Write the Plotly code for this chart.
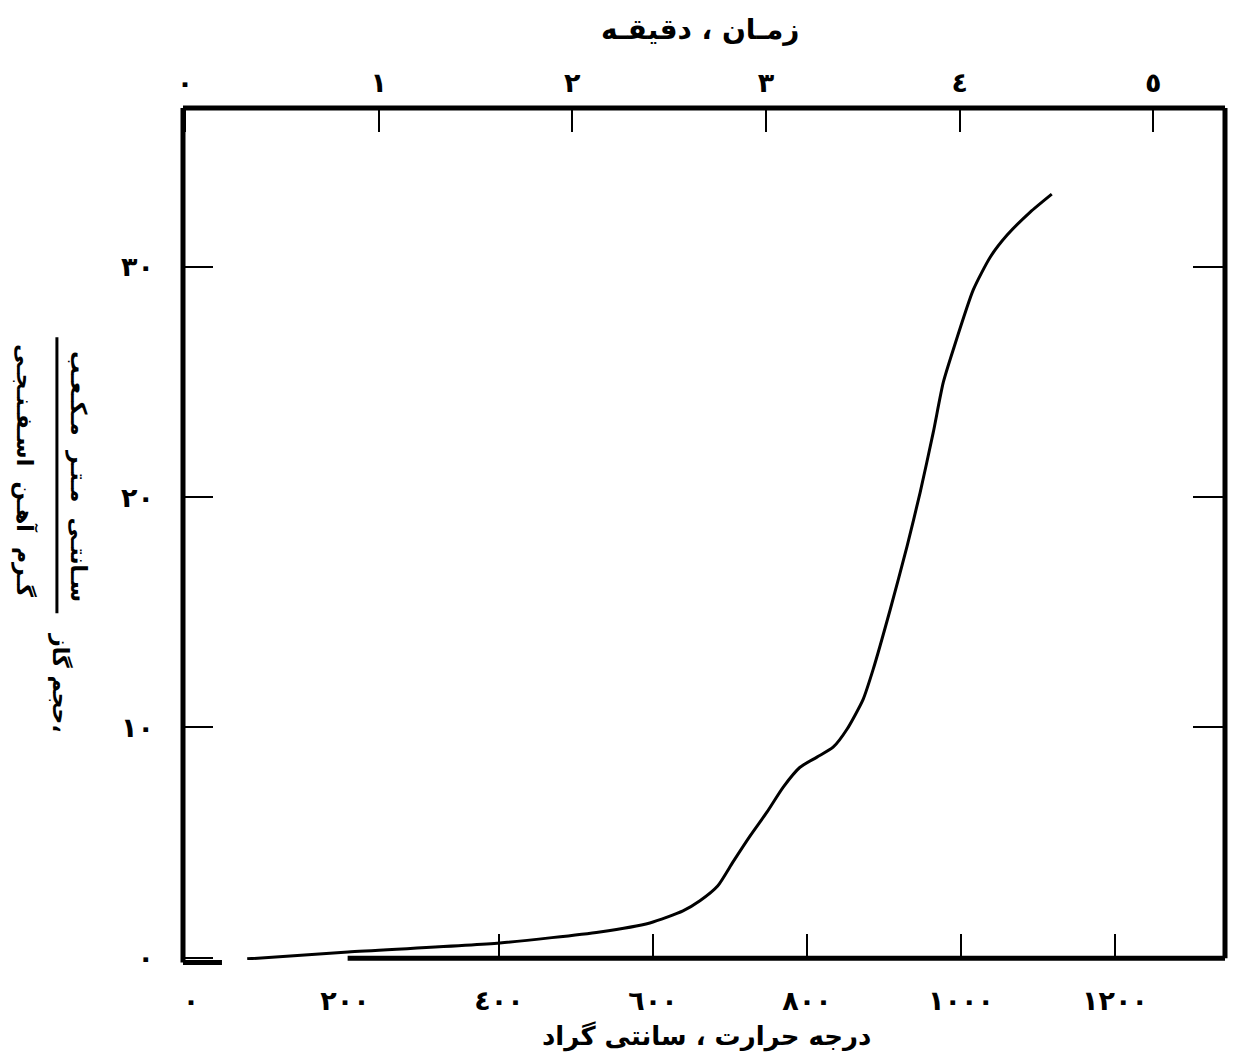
import plotly.graph_objects as go

# ---- data ----
temp_c = [73, 204, 401, 531, 596, 639, 661, 684, 704, 726, 748, 769, 791, 813,
          834, 852, 873, 886, 908, 930, 947, 964, 977, 990, 1016, 1038, 1060,
          1090, 1118]
gas_vol = [-0.05, 0.25, 0.64, 1.12, 1.51, 2.03, 2.47, 3.11, 4.16, 5.28, 6.32,
           7.40, 8.27, 8.71, 9.14, 9.92, 11.22, 12.52, 15.1, 17.86, 20.2, 22.8,
           24.97, 26.4, 29.0, 30.42, 31.38, 32.38, 33.16]

temp_ticks = [0, 200, 400, 600, 800, 1000, 1200]
temp_labels = ["٠", "٢٠٠", "٤٠٠", "٦٠٠", "٨٠٠", "١٠٠٠", "١٢٠٠"]
temp_marks = [400, 600, 800, 1000, 1200]

time_ticks = [0, 1, 2, 3, 4, 5]
time_labels = ["٠", "١", "٢", "٣", "٤", "٥"]

vol_ticks = [0, 10, 20, 30]
vol_labels = ["٠", "١٠", "٢٠", "٣٠"]

title_top = "زمـان ، دقیقـه"
title_bottom = "درجه حرارت ، سانتی گراد"
ylab_prefix = "حجم گاز،"
ylab_num = "سـانتـی  مـتـر  مـکـعـب"
ylab_den = "گـرم  آهـن  اسـفـنـجـی"

FONT = "DejaVu Sans"
XR = [-10.4, 1343]
X2R = [-0.01, 5.37]
YR = [-0.1, 36.9]

fig = go.Figure()
fig.add_trace(go.Scatter(x=temp_c, y=gas_vol, mode="lines",
                         line=dict(color="black", width=3, shape="spline", smoothing=0.6),
                         hoverinfo="skip", showlegend=False))
# invisible helper traces so overlay axes are drawn
fig.add_trace(go.Scatter(x=[1], y=[1], xaxis="x2", yaxis="y2", mode="markers",
                         marker=dict(opacity=0), hoverinfo="skip", showlegend=False))
fig.add_trace(go.Scatter(x=[400], y=[1], xaxis="x3", yaxis="y", mode="markers",
                         marker=dict(opacity=0), hoverinfo="skip", showlegend=False))

tickfont = dict(family=FONT, size=27, color="black", weight="bold")

fig.update_layout(
    width=1233, height=1062,
    margin=dict(l=183, r=8, t=108, b=102),
    paper_bgcolor="white", plot_bgcolor="white",
    xaxis=dict(range=XR, tickvals=temp_ticks, ticktext=temp_labels, ticks="",
               showgrid=False, zeroline=False, showline=False,
               tickfont=tickfont, ticklabelstandoff=22),
    xaxis3=dict(range=XR, overlaying="x", anchor="y", side="bottom",
                tickvals=temp_marks, ticks="inside", ticklen=26, tickwidth=2,
                tickcolor="black", showticklabels=False, showgrid=False,
                zeroline=False, showline=False),
    xaxis2=dict(range=X2R, overlaying="x", anchor="y", side="top",
                tickvals=time_ticks, ticktext=time_labels, ticks="inside",
                ticklen=24, tickwidth=2, tickcolor="black", showgrid=False,
                zeroline=False, showline=False, tickfont=tickfont,
                ticklabelstandoff=10),
    yaxis=dict(range=YR, tickvals=vol_ticks, ticktext=vol_labels, ticks="inside",
               ticklen=30, tickwidth=2, tickcolor="black", showgrid=False,
               zeroline=False, showline=False, tickfont=tickfont,
               ticklabelstandoff=28),
    yaxis2=dict(range=YR, overlaying="y", anchor="x", side="right",
                tickvals=vol_ticks, ticks="inside", ticklen=32, tickwidth=2,
                tickcolor="black", showticklabels=False, showgrid=False,
                zeroline=False, showline=False),
)

# frame (broken at the bottom-left as in the reference)
frame = dict(color="black", width=5)
shapes = [
    dict(type="line", xref="paper", yref="paper", x0=0, x1=0, y0=-0.003, y1=1.0, line=frame),
    dict(type="line", xref="paper", yref="paper", x0=0, x1=1, y0=1.0, y1=1.0, line=frame),
    dict(type="line", xref="paper", yref="paper", x0=1, x1=1, y0=0.002, y1=1.0, line=frame),
    dict(type="line", xref="paper", yref="paper", x0=0, x1=0.0374, y0=-0.003, y1=-0.003, line=frame),
    dict(type="line", xref="paper", yref="paper", x0=0.158, x1=1, y0=0.002, y1=0.002, line=frame),
    # fraction bar of the y-axis title
    dict(type="line", xref="paper", yref="paper", x0=-0.121, x1=-0.121, y0=0.407, y1=0.731,
         line=dict(color="black", width=3)),
]
fig.update_layout(shapes=shapes)

tfont = dict(family=FONT, size=26, color="black", weight="bold")
yfont = dict(family=FONT, size=22, color="black", weight="bold")
fig.add_annotation(text=title_top, xref="paper", yref="paper", x=0.496, y=1.092,
                   xanchor="center", yanchor="middle", showarrow=False,
                   font=dict(family=FONT, size=28, color="black", weight="bold"))
fig.add_annotation(text=title_bottom, xref="paper", yref="paper", x=0.502, y=-0.090,
                   xanchor="center", yanchor="middle", showarrow=False, font=tfont)
fig.add_annotation(text=ylab_num, xref="paper", yref="paper", x=-0.1008, y=0.567,
                   xanchor="center", yanchor="middle", showarrow=False, font=yfont,
                   textangle=90)
fig.add_annotation(text=ylab_den, xref="paper", yref="paper", x=-0.1516, y=0.575,
                   xanchor="center", yanchor="middle", showarrow=False, font=yfont,
                   textangle=90)
fig.add_annotation(text=ylab_prefix, xref="paper", yref="paper", x=-0.117, y=0.325,
                   xanchor="center", yanchor="middle", showarrow=False, font=yfont,
                   textangle=90)

fig.write_html("out.html", config={"displayModeBar": False},
               post_script="document.body.style.margin='0px';document.body.style.overflow='hidden';")
